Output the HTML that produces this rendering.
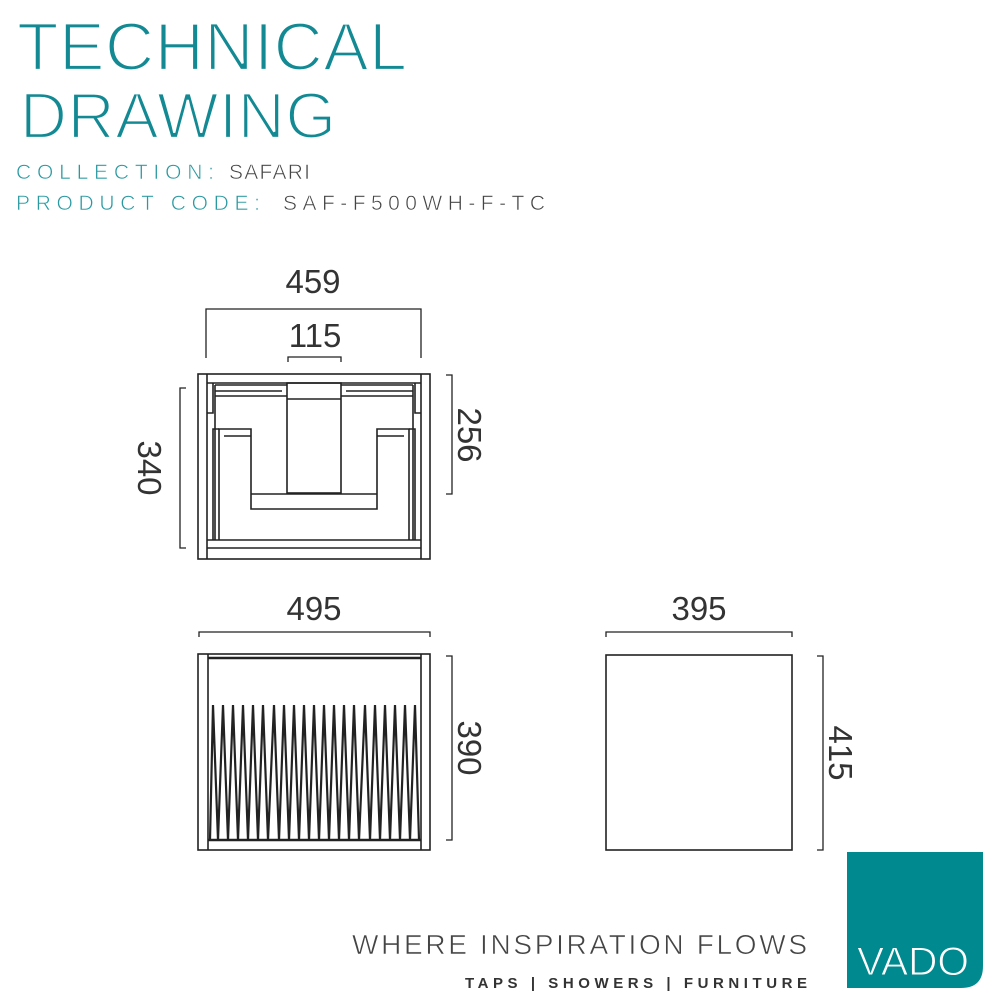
<!DOCTYPE html>
<html><head><meta charset="utf-8"><style>
html,body{margin:0;padding:0;background:#fff;width:1000px;height:1000px;overflow:hidden}
svg{display:block}
</style></head><body>
<svg width="1000" height="1000" viewBox="0 0 1000 1000" xmlns="http://www.w3.org/2000/svg" font-family="Liberation Sans, sans-serif">
<g fill="#138a93" stroke="#fff">
<text x="17" y="70" font-size="68" stroke-width="2.2" textLength="390" lengthAdjust="spacing">TECHNICAL</text>
<text x="20" y="138" font-size="65" stroke-width="2.2" textLength="316" lengthAdjust="spacing">DRAWING</text>
<text x="16" y="179" font-size="21" fill="#2a9aa2" stroke-width="0.6" textLength="198" lengthAdjust="spacing">COLLECTION:</text>
<text x="16" y="210" font-size="21" fill="#2a9aa2" stroke-width="0.6" textLength="244" lengthAdjust="spacing">PRODUCT CODE:</text>
</g>
<g fill="#444" stroke="#fff" stroke-width="0.6">
<text x="229" y="179" font-size="21" textLength="81" lengthAdjust="spacing">SAFARI</text>
<text x="283" y="210" font-size="21" textLength="262" lengthAdjust="spacing">SAF-F500WH-F-TC</text>
</g>
<g stroke="#222" stroke-width="1.6" fill="none">
<rect x="198" y="374" width="232" height="185"/>
<line x1="207" y1="374" x2="207" y2="559"/>
<line x1="421" y1="374" x2="421" y2="559"/>
<line x1="207" y1="383" x2="421" y2="383"/>
<line x1="207" y1="540" x2="421" y2="540"/>
<line x1="207" y1="548" x2="421" y2="548"/>
<path d="M213 383 V413 H207 M415 383 V413 H421"/>
<path d="M215 385 H287 M215 391 H282 M215 396 H287 M215 385 V540"/>
<path d="M413 385 H341 M413 391 H346 M413 396 H341 M413 385 V540"/>
<rect x="287" y="383" width="54" height="110"/>
<line x1="287" y1="399" x2="341" y2="399"/>
<path d="M219 540 V429 H251 V509 H377 V429 H409 V540"/>
<path d="M213 540 V429 H219 M415 540 V429 H409"/>
<line x1="251" y1="494" x2="377" y2="494"/>
<line x1="224" y1="436" x2="251" y2="436"/>
<line x1="377" y1="436" x2="404" y2="436"/>
<rect x="198" y="654" width="232" height="196"/>
<line x1="208" y1="654" x2="208" y2="850"/>
<line x1="421" y1="654" x2="421" y2="850"/>
<line x1="208" y1="658" x2="421" y2="658" stroke-width="2.5"/>
<line x1="208" y1="840" x2="421" y2="840" stroke-width="2.5"/>
<polyline stroke-width="2.2" points="210,840 213,705 218,840 223,705 228,840 233,705 238,840 243,705 248,840 253,705 258,840 263,705 268,840 274,705 279,840 284,705 289,840 294,705 299,840 304,705 309,840 314,705 319,840 324,705 329,840 334,705 339,840 344,705 349,840 354,705 359,840 365,705 370,840 375,705 380,840 385,705 390,840 395,705 400,840 405,705 410,840 415,705 419,840"/>
<rect x="606" y="655" width="186" height="195"/>
</g>
<g stroke="#222" stroke-width="1.3" fill="none">
<path d="M206 358 V309 H421 V358"/>
<path d="M288 362 V357 H341 V362"/>
<path d="M186 388 H180 V548 H186"/>
<path d="M446 375 H452 V494 H446"/>
<path d="M199 637 V632 H430 V637"/>
<path d="M446 656 H452 V840 H446"/>
<path d="M606 637 V632 H792 V637"/>
<path d="M817 656 H823 V850 H817"/>
</g>
<g fill="#333" font-size="33" text-anchor="middle">
<text x="313" y="293">459</text>
<text x="315" y="347">115</text>
<text x="314" y="620">495</text>
<text x="699" y="620">395</text>
<text transform="translate(138,468) rotate(90)">340</text>
<text transform="translate(458,435) rotate(90)">256</text>
<text transform="translate(458,748) rotate(90)">390</text>
<text transform="translate(829,753) rotate(90)">415</text>
</g>
<text x="352" y="954" font-size="28" fill="#444" stroke="#fff" stroke-width="0.6" textLength="455" lengthAdjust="spacing">WHERE INSPIRATION FLOWS</text>
<text x="465" y="988" font-size="15" font-weight="bold" fill="#333" textLength="342" lengthAdjust="spacing">TAPS | SHOWERS | FURNITURE</text>
<path d="M847 852 H983 V966 Q983 988 961 988 H847 Z" fill="#008a90"/>
<text x="913" y="975" font-size="40" fill="#fff" text-anchor="middle" stroke="#008a90" stroke-width="1" textLength="112" lengthAdjust="spacingAndGlyphs">VADO</text>
</svg>
</body></html>
